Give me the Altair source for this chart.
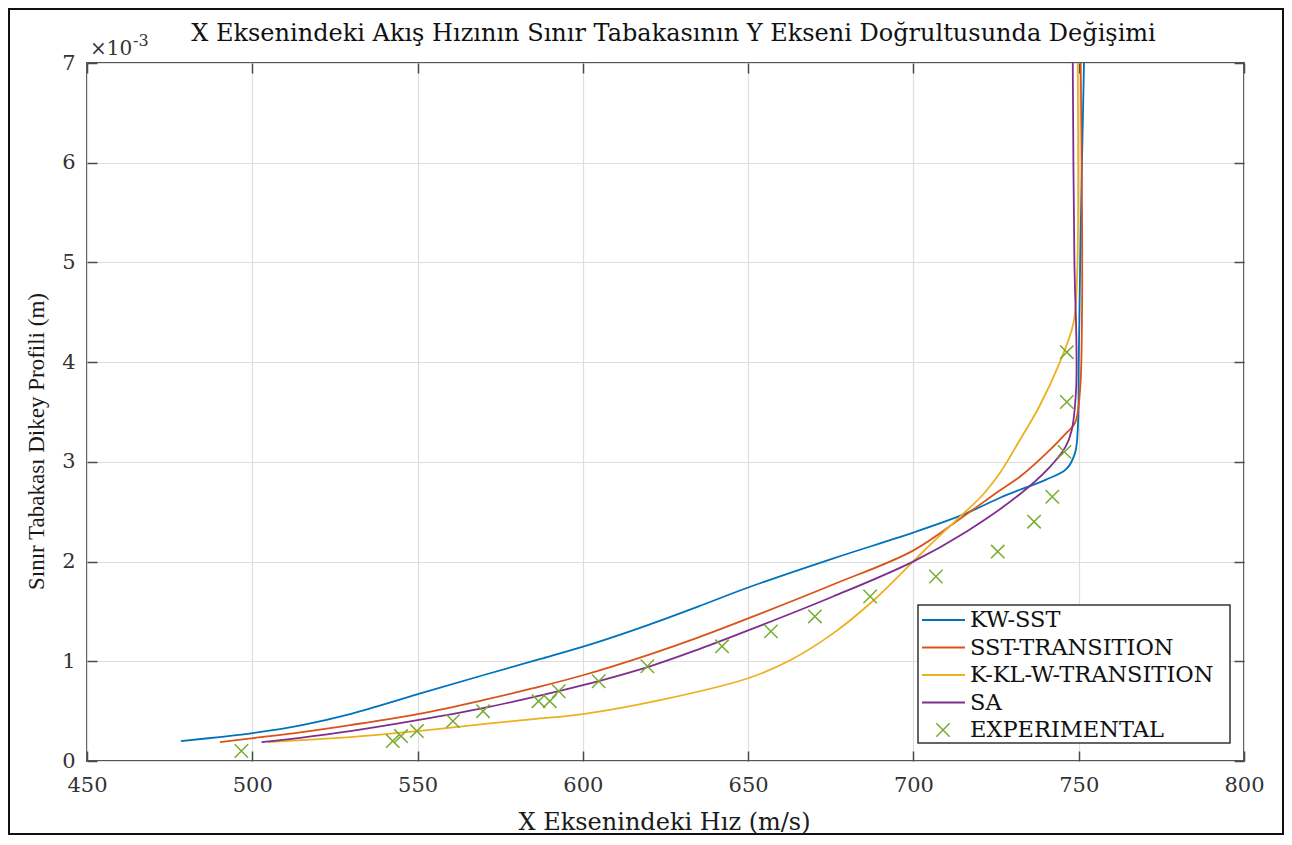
import altair as alt
import pandas as pd

# ---------------- data ----------------
series_names = ["KW-SST", "SST-TRANSITION", "K-KL-W-TRANSITION", "SA", "EXPERIMENTAL"]
series_colors = ["#0072BD", "#D95319", "#EDB120", "#7E2F8E", "#77AC30"]

kw_sst_x = [478.4, 490.0, 500.2, 515.0, 529.6, 550.1, 569.8, 587.9, 605.2, 620.3, 635.0, 650.0,
            675.6, 699.9, 715.0, 726.2, 732.2, 740.0, 746.3, 748.9, 749.8, 750.0, 750.7, 751.6]
kw_sst_y = [0.20, 0.24, 0.28, 0.36, 0.47, 0.67, 0.86, 1.03, 1.20, 1.37, 1.55, 1.74,
            2.03, 2.29, 2.47, 2.64, 2.72, 2.82, 2.93, 3.09, 3.39, 4.00, 5.50, 7.00]

sst_tr_x = [490.2, 500.3, 515.0, 529.6, 550.0, 569.8, 585.0, 600.0, 620.3, 635.0, 650.0, 675.7,
            699.9, 715.0, 726.0, 732.2, 741.3, 746.0, 748.9, 750.4, 751.0, 751.0, 750.6]
sst_tr_y = [0.19, 0.23, 0.29, 0.36, 0.47, 0.61, 0.73, 0.86, 1.07, 1.24, 1.43, 1.77,
            2.11, 2.45, 2.71, 2.85, 3.12, 3.28, 3.39, 3.72, 4.50, 5.50, 7.00]

kklw_x = [504.8, 515.0, 529.6, 550.0, 569.8, 585.0, 600.0, 623.3, 650.0, 662.7, 675.7, 687.9,
          699.9, 707.0, 715.1, 721.0, 726.2, 732.2, 738.0, 744.3, 748.4, 749.5, 749.7]
kklw_y = [0.19, 0.21, 0.24, 0.30, 0.37, 0.42, 0.47, 0.61, 0.83, 1.01, 1.28, 1.61,
          2.00, 2.23, 2.48, 2.67, 2.89, 3.22, 3.55, 4.00, 4.39, 4.85, 7.00]

sa_x = [502.8, 515.0, 529.6, 550.0, 569.8, 585.0, 600.0, 620.3, 635.0, 650.0, 675.7, 699.9,
        716.0, 732.0, 741.3, 746.0, 747.9, 749.2, 749.3, 748.7, 748.2]
sa_y = [0.19, 0.235, 0.30, 0.41, 0.53, 0.64, 0.76, 0.95, 1.12, 1.31, 1.65, 2.00,
        2.30, 2.67, 2.95, 3.15, 3.32, 3.72, 4.20, 5.00, 7.00]

exp_x = [496.7, 542.5, 545.0, 549.8, 560.7, 569.8, 586.6, 590.0, 592.7, 604.8, 619.5, 642.1,
         656.9, 670.2, 686.9, 706.8, 725.5, 736.5, 742.0, 745.7, 746.4, 746.4]
exp_y = [0.10, 0.20, 0.25, 0.30, 0.40, 0.50, 0.60, 0.60, 0.70, 0.80, 0.95, 1.15,
         1.30, 1.45, 1.65, 1.85, 2.10, 2.40, 2.65, 3.10, 3.60, 4.10]

x_ticks = [450, 500, 550, 600, 650, 700, 750, 800]
y_ticks = [0, 1, 2, 3, 4, 5, 6, 7]

title_text = "X Eksenindeki Akış Hızının Sınır Tabakasının Y Ekseni Doğrultusunda Değişimi"
x_title = "X Eksenindeki Hız (m/s)"
y_title = "Sınır Tabakası Dikey Profili (m)"

# ---------------- tables ----------------
rows = []
for name, xs, ys in [("KW-SST", kw_sst_x, kw_sst_y), ("SST-TRANSITION", sst_tr_x, sst_tr_y),
                     ("K-KL-W-TRANSITION", kklw_x, kklw_y), ("SA", sa_x, sa_y)]:
    for i, (xv, yv) in enumerate(zip(xs, ys)):
        rows.append({"series": name, "x": xv, "y": yv, "i": i})
curves = pd.DataFrame(rows)
exp_df = pd.DataFrame({"series": "EXPERIMENTAL", "x": exp_x, "y": exp_y})
legend_df = pd.DataFrame({"series": series_names})

W, H = 1157, 698
SERIF = "DejaVu Serif"
LABEL_COLOR = "#333333"
TICK_COLOR = "#4a4a4a"
GRID_COLOR = "#dedede"
XPATH = "M-1,-1L1,1M-1,1L1,-1"

color_scale = alt.Scale(domain=series_names, range=series_colors)
xs_ = alt.Scale(domain=[450, 800], nice=False, zero=False)
ys_ = alt.Scale(domain=[0, 7], nice=False, zero=False)

# axes
ax_x_main = alt.Axis(orient="bottom", values=x_ticks, grid=True, gridColor=GRID_COLOR, gridWidth=1.2,
                     ticks=False, tickSize=0, domain=False, labelFont=SERIF, labelFontSize=21,
                     labelColor=LABEL_COLOR, labelPadding=30, labelBaseline="alphabetic",
                     labelFlush=False, labelOverlap=False,
                     title=x_title, titleFont=SERIF, titleFontSize=24, titleFontWeight="normal",
                     titleColor="#1a1a1a", titleX=577, titleY=68, titleAlign="center",
                     titleBaseline="alphabetic")
ax_y_main = alt.Axis(orient="left", values=y_ticks, grid=True, gridColor=GRID_COLOR, gridWidth=1.2,
                     ticks=False, tickSize=0, domain=False, labelFont=SERIF, labelFontSize=21,
                     labelColor=LABEL_COLOR, labelPadding=12, labelFlush=False, labelOverlap=False,
                     title=y_title, titleFont="Liberation Serif", titleFontSize=23,
                     titleFontWeight="normal", titleColor="#1a1a1a", titleAngle=270,
                     titleX=-44, titleY=378, titleAlign="center", titleBaseline="alphabetic")


def tick_axis(orient, vals):
    return alt.Axis(orient=orient, values=vals, grid=False, ticks=True, tickSize=10,
                    tickColor=TICK_COLOR, tickWidth=1.5, labels=False, domain=False,
                    title=None, offset=-10)


base = alt.Chart(curves)

def line_layer(name, xax, yax):
    return base.transform_filter(alt.datum.series == name).mark_line(
        strokeWidth=1.8, interpolate="catmull-rom").encode(
        x=alt.X("x:Q", scale=xs_, axis=xax),
        y=alt.Y("y:Q", scale=ys_, axis=yax),
        color=alt.Color("series:N", scale=color_scale, legend=None),
        order=alt.Order("i:Q"),
    )

l_blue = line_layer("KW-SST", ax_x_main, ax_y_main)
l_orange = line_layer("SST-TRANSITION", tick_axis("bottom", x_ticks), tick_axis("left", y_ticks))
l_yellow = line_layer("K-KL-W-TRANSITION", tick_axis("top", x_ticks), tick_axis("right", y_ticks))
l_purple = line_layer("SA", None, None)

pts = alt.Chart(exp_df).mark_point(shape=XPATH, size=180, strokeWidth=1.5, filled=False,
                                    opacity=1).encode(
    x=alt.X("x:Q", scale=xs_, axis=None),
    y=alt.Y("y:Q", scale=ys_, axis=None),
    color=alt.Color("series:N", scale=color_scale, legend=None),
)

main = alt.layer(l_blue, l_orange, l_yellow, l_purple, pts).resolve_axis(x="independent", y="independent")

# ---------------- legend ----------------
leg_y = alt.Y("series:N", scale=alt.Scale(type="point", domain=series_names, range=[557, 667], padding=0),
              axis=None)
one = pd.DataFrame({"k": [0]})
leg_box = alt.Chart(one).mark_rect(fill="white", stroke="#333333", strokeWidth=1.5).encode(
    x=alt.value(831), x2=alt.value(1143), y=alt.value(542), y2=alt.value(680))
leg_lines = alt.Chart(legend_df).transform_filter(alt.datum.series != "EXPERIMENTAL").mark_rule(
    strokeWidth=1.8).encode(
    x=alt.value(835), x2=alt.value(878), y=leg_y,
    color=alt.Color("series:N", scale=color_scale, legend=None))
leg_pt = alt.Chart(legend_df).transform_filter(alt.datum.series == "EXPERIMENTAL").mark_point(
    shape=XPATH, size=180, strokeWidth=1.5, filled=False, opacity=1).encode(
    x=alt.value(856), y=leg_y,
    color=alt.Color("series:N", scale=color_scale, legend=None))
leg_text = alt.Chart(legend_df).mark_text(align="left", baseline="middle", font=SERIF, fontSize=22.5,
                                          color="#111111").encode(
    x=alt.value(883), y=leg_y, text="series:N")
legend = alt.layer(leg_box, leg_lines, leg_pt, leg_text)

# ---------------- annotations ----------------
title_df = pd.DataFrame({"t": [title_text]})
title_mark = alt.Chart(title_df).mark_text(align="center", baseline="alphabetic", font=SERIF,
                                           fontSize=24, color="#111111").encode(
    x=alt.value(586.5), y=alt.value(-22), text="t:N")
exp_base = alt.Chart(pd.DataFrame({"t": ["×10"]})).mark_text(
    align="left", baseline="alphabetic", font=SERIF, fontSize=20, color=LABEL_COLOR).encode(
    x=alt.value(3), y=alt.value(-8), text="t:N")
exp_sup = alt.Chart(pd.DataFrame({"t": ["-3"]})).mark_text(
    align="left", baseline="alphabetic", font=SERIF, fontSize=16, color=LABEL_COLOR).encode(
    x=alt.value(46), y=alt.value(-17), text="t:N")
frame = alt.Chart(one).mark_rect(fill="white", fillOpacity=0, stroke="#111111", strokeWidth=2).encode(
    x=alt.value(-78), x2=alt.value(1196), y=alt.value(-54), y2=alt.value(771))

chart = alt.layer(main, legend, title_mark, exp_base, exp_sup, frame).resolve_scale(
    y="independent").resolve_axis(x="independent", y="independent").properties(
    width=W, height=H,
    autosize=alt.AutoSizeParams(type="none"),
    padding={"left": 79, "top": 55, "right": 40, "bottom": 74},
    background="white",
).configure_view(stroke="#555555", strokeWidth=2)

chart.save("out.html", embed_options={"renderer": "svg", "actions": False})
